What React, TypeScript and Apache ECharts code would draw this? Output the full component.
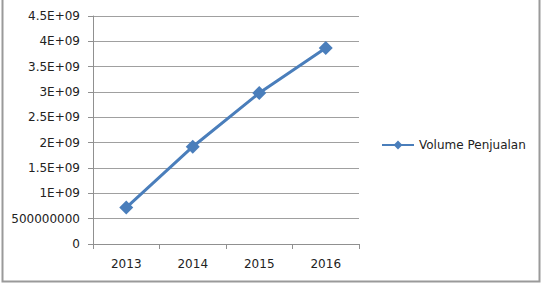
import React, { useEffect, useRef } from "react";
import * as echarts from "echarts";

const categories = ["2013", "2014", "2015", "2016"];
const seriesName = "Volume Penjualan";
const volumeValues = [720000000, 1920000000, 2980000000, 3870000000];
const yTickLabels = ["0", "500000000", "1E+09", "1.5E+09", "2E+09", "2.5E+09", "3E+09", "3.5E+09", "4E+09", "4.5E+09"];

export default function App() {
  const ref = useRef<HTMLDivElement>(null);
  useEffect(() => {
    if (!ref.current) return;
    const chart = echarts.init(ref.current, null, { renderer: "svg" });
    const font = "DejaVu Sans";
    chart.setOption({
      animation: false,
      backgroundColor: "#ffffff",
      textStyle: { fontFamily: font },
      grid: { left: 93, right: 184, top: 16, bottom: 41, containLabel: false },
      legend: {
        data: [seriesName],
        left: 376,
        top: 134,
        itemWidth: 32,
        itemHeight: 11,
        textStyle: { fontFamily: font, fontSize: 12, color: "#222" },
      },
      xAxis: {
        type: "category",
        data: categories,
        boundaryGap: true,
        axisLine: { lineStyle: { color: "#909090", width: 1 } },
        axisTick: { show: true, alignWithLabel: false, length: 5, lineStyle: { color: "#909090" } },
        axisLabel: { margin: 14, fontSize: 12, color: "#222", fontFamily: font },
        splitLine: { show: false },
      },
      yAxis: {
        type: "value",
        min: 0,
        max: 4500000000,
        interval: 500000000,
        axisLine: { show: true, lineStyle: { color: "#909090", width: 1 } },
        axisTick: { show: true, length: 5, lineStyle: { color: "#909090" } },
        axisLabel: {
          margin: 13,
          fontSize: 12,
          color: "#222",
          fontFamily: font,
          formatter: (_v: number, i: number) => yTickLabels[i] ?? "",
        },
        splitLine: { show: true, lineStyle: { color: "#a0a0a0", width: 1 } },
      },
      series: [
        {
          name: seriesName,
          type: "line",
          data: volumeValues,
          symbol: "diamond",
          symbolSize: 14,
          lineStyle: { color: "#4a7ebb", width: 3 },
          itemStyle: { color: "#4a7ebb" },
        },
      ],
      graphic: [
        {
          type: "rect",
          shape: { x: 2.5, y: -2, width: 537, height: 283.5 },
          style: { fill: "none", stroke: "#9a9a9a", lineWidth: 2 },
          silent: true,
        },
      ],
    });
    return () => chart.dispose();
  }, []);
  return (
    <div
      ref={ref}
      style={{ position: "absolute", left: 0, top: 0, width: 543, height: 285 }}
    />
  );
}
